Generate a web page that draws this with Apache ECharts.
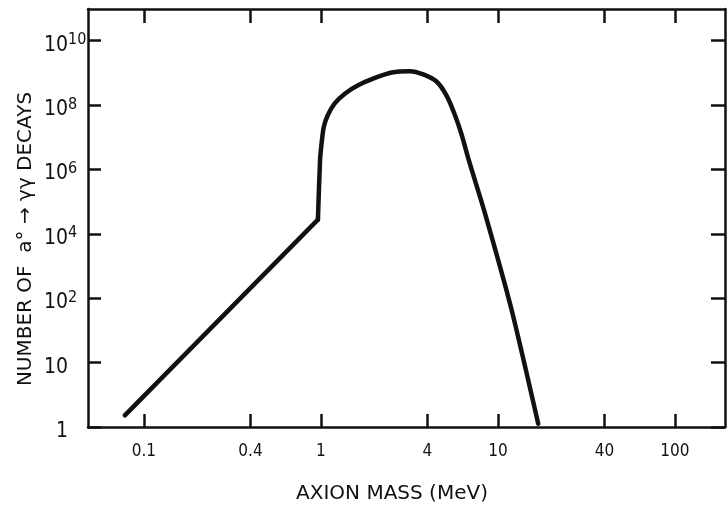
<!DOCTYPE html>
<html>
<head>
<meta charset="utf-8">
<script src="https://cdn.jsdelivr.net/npm/echarts@6/dist/echarts.min.js"></script>
<style>
  html, body { margin: 0; background: #fff; }
  #chart { width: 727px; height: 505px; }
</style>
</head>
<body>
<div id="chart"></div>
<script>
// axion mass (MeV) along the curve
const mass = [0.078, 0.962, 0.989, 1.009, 1.038, 1.095, 1.197, 1.365, 1.622, 2.02, 2.51, 3.18, 3.79, 4.50, 5.12, 5.69, 6.22, 6.89, 8.47, 11.9, 16.9]
// log10 of number of a -> gamma gamma decays
const decayExp = [0.18, 4.44, 6.29, 6.81, 7.32, 7.69, 8.05, 8.35, 8.61, 8.84, 9.01, 9.05, 8.95, 8.73, 8.30, 7.72, 7.10, 6.24, 4.62, 1.84, 0.05]

const xTicks = [0.1, 0.4, 1, 4, 10, 40, 100]
const yTickBase = ['1', '10', '10', '10', '10', '10', '10']
const yTickExp = ['', '', '2', '4', '6', '8', '10']

const xMin = 0.0483
const xMax = 192
const yTop = 6.49

// the printed axis steps one decade for 1..10^2, then two decades per tick
function toAxis(e) {
  return e <= 2 ? e : 1 + e / 2
}

const ink = '#111'
const narrow = 'Liberation Sans Narrow, DejaVu Sans Condensed, sans-serif'
const tickPos = xTicks.map(v => Math.log10(v))
const yTickPos = yTickBase.map((b, i) => i)
const kneeIdx = 1

function frameAxis(extra) {
  return Object.assign({
    type: 'value',
    axisLine: { onZero: false, lineStyle: { color: ink, width: 2.5 } },
    axisLabel: { show: false },
    splitLine: { show: false }
  }, extra)
}

const points = mass.map((m, i) => [Math.log10(m), toAxis(decayExp[i])])

const chart = echarts.init(document.getElementById('chart'))
chart.setOption({
  backgroundColor: '#fff',
  animation: false,
  grid: { left: 88, right: 2, top: 9, bottom: 78 },
  xAxis: [frameAxis({
    min: Math.log10(xMin),
    max: Math.log10(xMax),
    axisTick: { inside: true, length: 13, customValues: tickPos, lineStyle: { color: ink, width: 2.5 } },
    axisLabel: {
      customValues: tickPos,
      margin: 16,
      color: ink,
      fontFamily: 'DejaVu Sans Condensed',
      fontSize: 17,
      formatter: v => String(Number(Math.pow(10, v).toPrecision(2)))
    }
  }), frameAxis({
    position: 'top',
    min: Math.log10(xMin),
    max: Math.log10(xMax),
    axisTick: { inside: true, length: 14, customValues: tickPos, lineStyle: { color: ink, width: 2.5 } }
  })],
  yAxis: [frameAxis({
    min: 0,
    max: yTop,
    axisTick: { inside: true, length: 13, customValues: yTickPos, lineStyle: { color: ink, width: 2.5 } },
    axisLabel: {
      customValues: yTickPos,
      margin: 20,
      formatter: v => yTickBase[v] ? '{b|' + yTickBase[v] + '}' : '',
      rich: {
        b: { fontFamily: narrow, fontSize: 21, color: ink, padding: [9, 0, 0, 0] }
      }
    }
  }), frameAxis({
    position: 'right',
    min: 0,
    max: yTop,
    axisTick: { inside: true, length: 14, customValues: yTickPos, lineStyle: { color: ink, width: 2.5 } }
  }), {
    // exponents hanging after the "10" of each left label
    type: 'value',
    position: 'left',
    min: 0,
    max: yTop,
    axisLine: { show: false },
    axisTick: { show: false },
    splitLine: { show: false },
    axisLabel: {
      customValues: yTickPos,
      margin: 20,
      align: 'left',
      formatter: v => yTickExp[v] ? '{s|' + yTickExp[v] + '}' : '',
      rich: {
        s: { fontFamily: narrow, fontSize: 16, color: ink, padding: [0, 0, 1, 0] }
      }
    }
  }],
  graphic: [{
    type: 'text',
    x: 392,
    y: 494,
    style: {
      text: 'AXION MASS (MeV)',
      fontFamily: 'DejaVu Sans',
      fontSize: 20,
      fill: ink,
      align: 'center',
      verticalAlign: 'middle'
    }
  }, {
    type: 'text',
    x: 26,
    y: 239,
    rotation: Math.PI / 2,
    style: {
      text: 'NUMBER OF  a° → γγ DECAYS',
      fontFamily: 'DejaVu Sans',
      fontSize: 20,
      fill: ink,
      align: 'center',
      verticalAlign: 'middle'
    }
  }],
  series: [{
    type: 'line',
    showSymbol: false,
    lineStyle: { color: ink, width: 4.5, join: 'round', cap: 'round' },
    data: points.slice(0, kneeIdx + 1)
  }, {
    type: 'line',
    showSymbol: false,
    smooth: 0.25,
    lineStyle: { color: ink, width: 4.5, join: 'round', cap: 'round' },
    data: points.slice(kneeIdx)
  }]
})
</script>
</body>
</html>
